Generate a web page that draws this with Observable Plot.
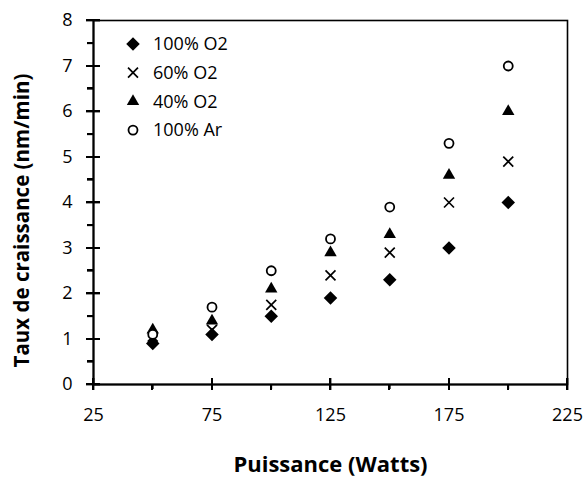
<!DOCTYPE html>
<html><head><meta charset="utf-8">
<script src="https://cdn.jsdelivr.net/npm/d3@7"></script>
<script src="https://cdn.jsdelivr.net/npm/@observablehq/plot@0.6"></script>
<style>
body{margin:0;background:#fff;}
#chart{position:relative;width:587px;height:477px;}
.tk{position:absolute;background:#000;pointer-events:none;}
</style></head><body><div id="chart"></div>
<script>
// Data
const powers = [50, 75, 100, 125, 150, 175, 200];
const o2_100 = [0.9, 1.1, 1.5, 1.9, 2.3, 3.0, 4.0];
const o2_60  = [1.05, 1.2, 1.75, 2.4, 2.9, 4.0, 4.9];
const o2_40  = [1.2, 1.4, 2.1, 2.9, 3.3, 4.6, 6.0];
const ar_100 = [1.1, 1.7, 2.5, 3.2, 3.9, 5.3, 7.0];
const seriesNames = ["100% O2", "60% O2", "40% O2", "100% Ar"];
const xMajor = [25, 75, 125, 175, 225];
const xMinor = [50, 100, 150, 200];
const yMajor = [0, 1, 2, 3, 4, 5, 6, 7, 8];
const yMinor = [0.5, 1.5, 2.5, 3.5, 4.5, 5.5, 6.5, 7.5];
const xTitle = "Puissance (Watts)";
const yTitle = "Taux de craissance (nm/min)";

const W = 587, H = 477, mL = 93, mR = 20, mT = 20, mB = 93;
const pxX = (W - mL - mR) / 200, pxY = (H - mT - mB) / 8;

const styles = [
  {symbol: d3.symbolDiamond2, r: 6.1, fill: "black", stroke: "none", sw: 0},
  {symbol: d3.symbolTimes, r: 4.6, fill: "none", stroke: "black", sw: 1.7},
  {symbol: d3.symbolTriangle, r: 4.6, fill: "black", stroke: "none", sw: 0},
  {symbol: "circle", r: 4.5, fill: "white", stroke: "black", sw: 1.8}
];
const valuesList = [o2_100, o2_60, o2_40, ar_100];
const data = seriesNames.flatMap((name, k) => powers.map((p, i) => ({series: name, power: p, rate: valuesList[k][i]})));

const font = "Open Sans";
const dotMarks = seriesNames.map((name, k) => Plot.dot(data.filter(d => d.series === name), {
  x: "power", y: "rate", symbol: styles[k].symbol, r: styles[k].r,
  fill: styles[k].fill, stroke: styles[k].stroke, strokeWidth: styles[k].sw
}));

const chart = Plot.plot({
  width: W, height: H,
  marginLeft: mL, marginRight: mR, marginTop: mT, marginBottom: mB,
  style: {fontFamily: font, fontSize: "18px", color: "black", background: "white", overflow: "visible"},
  x: {domain: [25, 225]},
  y: {domain: [0, 8]},
  marks: [
    Plot.frame({stroke: "black", strokeWidth: 1.6}),
    Plot.ruleX([25], {stroke: "black", strokeWidth: 2}),
    Plot.ruleY([0], {stroke: "black", strokeWidth: 2}),
    Plot.ruleX(xMajor, {x: d => d, y1: -6 / pxY, y2: 6 / pxY, stroke: "black", strokeWidth: 1.8}),
    Plot.ruleX(xMinor, {x: d => d, y1: -5 / pxY, y2: 0, stroke: "black", strokeWidth: 1.8}),
    Plot.ruleY(yMajor, {y: d => d, x1: 25 - 7 / pxX, x2: 25 + 7 / pxX, stroke: "black", strokeWidth: 1.8}),
    Plot.ruleY(yMinor, {y: d => d, x1: 25 - 6 / pxX, x2: 25, stroke: "black", strokeWidth: 1.8}),
    Plot.axisX({ticks: xMajor, tickSize: 0, tickPadding: 24, tickFormat: d => String(d), label: null, fontSize: 18}),
    Plot.text([xTitle], {frameAnchor: "bottom", dy: 80, textAnchor: "middle", lineAnchor: "middle", fontSize: 22, fontWeight: "bold", fill: "black"}),
    Plot.axisY({ticks: yMajor, tickSize: 0, tickPadding: 21, tickFormat: d => String(d), label: null, fontSize: 18}),
    Plot.text([yTitle], {frameAnchor: "left", rotate: -90, dx: -71, dy: 18, textAnchor: "middle", lineAnchor: "middle", fontSize: 20.5, fontWeight: "bold", fill: "black"}),
    ...dotMarks
  ]
});
const host = document.getElementById("chart");
host.appendChild(chart);

// Tick overlay positioned through Plot's own scales (fallback: same linear mapping)
let fx = v => mL + (v - 25) * pxX, fy = v => H - mB - v * pxY;
try {
  const xs = chart.scale("x"), ys = chart.scale("y");
  if (xs && Number.isFinite(xs.apply(75))) fx = v => xs.apply(v);
  if (ys && Number.isFinite(ys.apply(4))) fy = v => ys.apply(v);
} catch (e) {}
const yBase = fy(0), xBase = fx(25);
function tick(left, top, w, h) {
  const d = document.createElement("div");
  d.className = "tk";
  d.style.left = left + "px"; d.style.top = top + "px";
  d.style.width = w + "px"; d.style.height = h + "px";
  host.appendChild(d);
}
xMajor.forEach(v => tick(fx(v) - 1, yBase - 6, 2, 12));
xMinor.forEach(v => tick(fx(v) - 1, yBase, 2, 6));
yMajor.forEach(v => tick(xBase - 7, fy(v) - 1, 14, 2));
yMinor.forEach(v => tick(xBase - 6, fy(v) - 1, 6, 2));

// Legend inside the plot area
const svg = d3.select(chart);
const lg = svg.append("g").attr("transform", "translate(133,44)");
seriesNames.forEach((name, k) => {
  const g = lg.append("g").attr("transform", `translate(0,${k * 28.7})`);
  const st = styles[k];
  if (st.symbol === "circle") {
    g.append("circle").attr("r", st.r).attr("fill", st.fill).attr("stroke", st.stroke).attr("stroke-width", st.sw);
  } else {
    g.append("path").attr("d", d3.symbol(st.symbol, Math.PI * st.r * st.r)())
      .attr("fill", st.fill).attr("stroke", st.stroke).attr("stroke-width", st.sw);
  }
  g.append("text").attr("x", 20).attr("dy", "0.35em").attr("text-anchor", "start")
    .attr("font-family", font).attr("font-size", 18).attr("fill", "black").text(name);
});
</script></body></html>
